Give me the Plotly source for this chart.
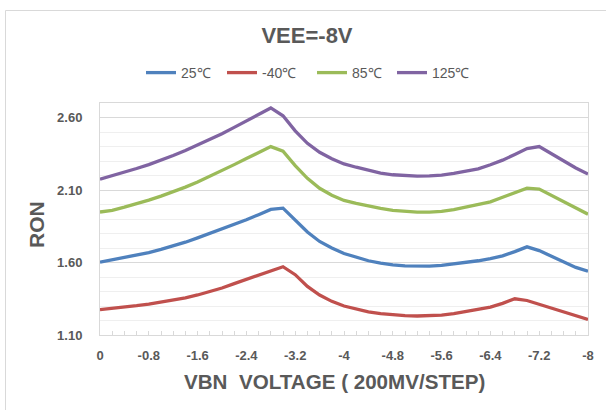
import plotly.graph_objects as go

# VBN voltage steps (200 mV per step)
vbn = [0.0, -0.2, -0.4, -0.6, -0.8, -1.0, -1.2, -1.4, -1.6, -1.8,
       -2.0, -2.2, -2.4, -2.6, -2.8, -3.0, -3.2, -3.4, -3.6, -3.8,
       -4.0, -4.2, -4.4, -4.6, -4.8, -5.0, -5.2, -5.4, -5.6, -5.8,
       -6.0, -6.2, -6.4, -6.6, -6.8, -7.0, -7.2, -7.4, -7.6, -7.8, -8.0]

ron_25 = [1.603, 1.618, 1.633, 1.650, 1.668, 1.690, 1.714, 1.740, 1.770, 1.800,
          1.830, 1.862, 1.895, 1.930, 1.966, 1.975, 1.890, 1.810, 1.745, 1.700,
          1.662, 1.635, 1.612, 1.595, 1.583, 1.577, 1.574, 1.575, 1.580, 1.589,
          1.602, 1.612, 1.627, 1.646, 1.675, 1.708, 1.682, 1.642, 1.600, 1.566, 1.540]

ron_m40 = [1.275, 1.283, 1.292, 1.302, 1.313, 1.326, 1.340, 1.356, 1.376, 1.398,
           1.424, 1.454, 1.484, 1.514, 1.544, 1.571, 1.516, 1.435, 1.376, 1.332,
           1.300, 1.278, 1.260, 1.247, 1.238, 1.233, 1.231, 1.232, 1.237, 1.248,
           1.264, 1.275, 1.292, 1.318, 1.350, 1.338, 1.312, 1.283, 1.256, 1.231, 1.207]

ron_85 = [1.948, 1.960, 1.982, 2.005, 2.030, 2.058, 2.088, 2.120, 2.155, 2.193,
          2.233, 2.275, 2.317, 2.358, 2.399, 2.368, 2.268, 2.180, 2.112, 2.064,
          2.028, 2.008, 1.990, 1.973, 1.960, 1.951, 1.947, 1.947, 1.952, 1.965,
          1.984, 1.998, 2.018, 2.050, 2.083, 2.113, 2.106, 2.063, 2.018, 1.975, 1.933]

ron_125 = [2.175, 2.198, 2.222, 2.248, 2.275, 2.305, 2.338, 2.372, 2.410, 2.448,
           2.488, 2.532, 2.577, 2.622, 2.666, 2.612, 2.508, 2.422, 2.360, 2.315,
           2.280, 2.257, 2.235, 2.217, 2.205, 2.198, 2.196, 2.197, 2.203, 2.215,
           2.232, 2.246, 2.274, 2.306, 2.345, 2.386, 2.400, 2.350, 2.298, 2.252, 2.210]

series_names = ["25℃", "-40℃", "85℃", "125℃"]
series_values = [ron_25, ron_m40, ron_85, ron_125]
series_colors = ["#4F81BD", "#C0504D", "#9BBB59", "#8064A2"]

x_tickvals = [0.0, -0.8, -1.6, -2.4, -3.2, -4.0, -4.8, -5.6, -6.4, -7.2, -8.0]
x_ticktext = ["0", "-0.8", "-1.6", "-2.4", "-3.2", "-4", "-4.8", "-5.6", "-6.4", "-7.2", "-8"]

TXT = "#595959"
GRID = "#D9D9D9"
MINOR = "#EFEFEF"
FONT = "Liberation Sans, Arial, sans-serif"

W, H = 606, 410
L, R, T, B = 100, 18, 103, 75
pw, ph = W - L - R, H - T - B

def px_x(px):
    return (px - L) / pw

def px_y(py):
    return (H - B - py) / ph

# one legend per series so each entry sits where the reference has it
legend_ids = ["legend", "legend2", "legend3", "legend4"]
legend_line_starts = [146, 227, 317, 397]

fig = go.Figure()
for name, vals, col, lid in zip(series_names, series_values, series_colors, legend_ids):
    fig.add_trace(go.Scatter(x=vbn, y=vals, name=name, mode="lines",
                             line=dict(color=col, width=3.3), legend=lid))

legend_layout = {}
for lid, xs in zip(legend_ids, legend_line_starts):
    legend_layout[lid] = dict(orientation="h", xanchor="left", yanchor="middle",
                              x=px_x(xs - 5), y=px_y(73),
                              font=dict(size=14, color=TXT, family=FONT),
                              bgcolor="rgba(0,0,0,0)", borderwidth=0, itemwidth=30)

fig.update_layout(
    width=W, height=H,
    margin=dict(l=L, r=R, t=T, b=B, pad=0),
    paper_bgcolor="white", plot_bgcolor="white",
    font=dict(family=FONT, color=TXT),
    title=dict(text="<b>VEE=-8V</b>", font=dict(size=22, color=TXT, family=FONT),
               x=307 / W, xanchor="center", xref="container",
               y=1 - 35 / H, yanchor="middle", yref="container"),
    showlegend=True,
    xaxis=dict(range=[0, -8], tickmode="array", tickvals=x_tickvals, ticktext=x_ticktext,
               showgrid=False, zeroline=False,
               showline=True, mirror=True, linecolor=GRID, linewidth=1,
               ticks="inside", ticklen=4, tickcolor=GRID,
               minor=dict(ticks="inside", tickmode="linear", tick0=0, dtick=0.2,
                          ticklen=4, tickcolor=GRID, showgrid=False),
               tickfont=dict(size=13, color=TXT, family=FONT, weight="bold"),
               ticklabelstandoff=8,
               automargin=False),
    yaxis=dict(range=[1.1, 2.7], tickmode="linear", tick0=1.1, dtick=0.5,
               tickformat=".2f", showgrid=True, gridcolor=GRID, gridwidth=1,
               zeroline=False, showline=True, mirror=True, linecolor=GRID, linewidth=1,
               ticks="",
               minor=dict(tickmode="linear", tick0=1.1, dtick=0.1, showgrid=True,
                          gridcolor=MINOR, gridwidth=1, ticks=""),
               tickfont=dict(size=13, color=TXT, family=FONT, weight="bold"),
               ticklabelstandoff=14,
               automargin=False),
    **legend_layout,
)

# axis titles, placed as in the reference (x title centred on the chart area)
fig.add_annotation(text="VBN  VOLTAGE ( 200MV/STEP)", xref="paper", yref="paper",
                   x=px_x(334), y=px_y(381), xanchor="center", yanchor="middle",
                   showarrow=False,
                   font=dict(size=20.6, color=TXT, family=FONT, weight="bold"))
fig.add_annotation(text="RON", xref="paper", yref="paper",
                   x=px_x(36), y=px_y(225), xanchor="center", yanchor="middle",
                   textangle=-90, showarrow=False,
                   font=dict(size=21, color=TXT, family=FONT, weight="bold"))

# outer chart border (light gray frame, partly outside the picture)
fig.add_shape(type="rect", xref="paper", yref="paper",
              x0=px_x(5.5), x1=px_x(W + 20),
              y0=px_y(H + 20), y1=px_y(10.5),
              line=dict(color=GRID, width=1), fillcolor="rgba(0,0,0,0)", layer="below")

fig.write_html("out.html")
